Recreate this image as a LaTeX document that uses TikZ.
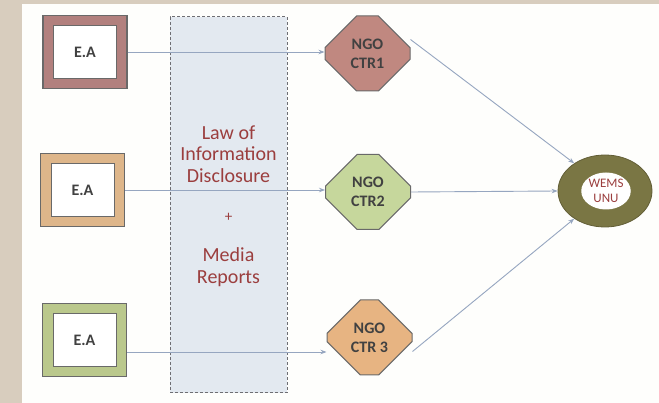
\documentclass[tikz,border=0pt]{standalone}
\usepackage{fontspec}
\setmainfont{Carlito}
\usetikzlibrary{shapes.misc,shapes.geometric,arrows.meta}
\definecolor{bgbeige}{RGB}{216,205,190}
\definecolor{panel}{RGB}{254,254,252}
\definecolor{edgegray}{RGB}{105,105,105}
\definecolor{rosefill}{RGB}{178,128,126}
\definecolor{tanfill}{RGB}{222,182,138}
\definecolor{greenfill}{RGB}{186,200,140}
\definecolor{oct1fill}{RGB}{192,136,128}
\definecolor{oct2fill}{RGB}{198,215,156}
\definecolor{oct3fill}{RGB}{231,180,130}
\definecolor{boxfill}{RGB}{227,233,240}
\definecolor{dashgray}{RGB}{110,110,115}
\definecolor{conncol}{RGB}{150,166,192}
\definecolor{redtext}{RGB}{155,62,62}
\definecolor{olive}{RGB}{122,118,68}
\definecolor{darktext}{RGB}{65,65,65}
\tikzset{
  eaouter/.style={draw=edgegray, line width=1.2pt, minimum width=84pt, minimum height=73pt, inner sep=0pt},
  eainner/.style={draw=edgegray, line width=1pt, fill=white, minimum width=63pt, minimum height=53pt, inner sep=0pt,
    font=\fontsize{16}{18}\selectfont\bfseries, text=darktext},
  ngo/.style={chamfered rectangle, chamfered rectangle xsep=20pt, chamfered rectangle ysep=22pt,
    draw=edgegray, line width=1pt, minimum width=85pt, minimum height=75pt, inner sep=0pt,
    align=center, font=\fontsize{16}{19}\selectfont\bfseries, text=darktext},
  conn/.style={draw=conncol, line width=0.9pt, -{Stealth[length=6pt,width=4.5pt]}},
}
\begin{document}
\begin{tikzpicture}[x=1pt,y=-1pt]
\fill[bgbeige] (0,0) rectangle (659,403);
\fill[panel] (22,4) rectangle (659,403);
\useasboundingbox (0,0) rectangle (659,403);
% central dashed box
\node[draw=dashgray, densely dashed, line width=1pt, fill=boxfill, minimum width=117pt, minimum height=376pt, inner sep=0pt] (law) at (228.5,205) {};
\node[text=redtext, align=center, font=\fontsize{20}{21.5}\selectfont] (lawtxt) at (228.5,154) {Law of\\Information\\Disclosure};
\node[text=redtext, font=\fontsize{15}{16}\selectfont] (plus) at (228.5,217) {+};
\node[text=redtext, align=center, font=\fontsize{20}{21.5}\selectfont] (media) at (228.5,267) {Media\\Reports};
% E.A boxes
\node[eaouter, fill=rosefill] (ea1o) at (85,52) {};
\node[eainner] (ea1) at (85,52) {E.A};
\node[eaouter, fill=tanfill] (ea2o) at (82.5,190) {};
\node[eainner] (ea2) at (82.5,190) {E.A};
\node[eaouter, fill=greenfill] (ea3o) at (84.5,340) {};
\node[eainner] (ea3) at (84.5,340) {E.A};
% NGO octagons
\node[ngo, fill=oct1fill] (oct1) at (367.5,53.5) {NGO\\CTR1};
\node[ngo, fill=oct2fill] (oct2) at (368,192) {NGO\\CTR2};
\node[ngo, fill=oct3fill] (oct3) at (369.5,337.5) {NGO\\CTR 3};
% WEMS UNU ring
\node[ellipse, draw=olive!80!black, line width=0.8pt, fill=olive, minimum width=94pt, minimum height=72pt, inner sep=0pt] (ring) at (605,191) {};
\node[ellipse, fill=white, minimum width=48pt, minimum height=37pt, inner sep=0pt, align=center,
  text=redtext, font=\fontsize{13}{15}\selectfont] (wems) at (606,191) {WEMS\\UNU};
% connectors
\draw[conn] (ea1o.east) -- (ea1o.east -| oct1.west);
\draw[conn] (ea2o.east) -- (ea2o.east -| oct2.west);
\coordinate (s3) at ([yshift=-12pt]ea3o.east);
\draw[conn] (s3) -- (s3 -| oct3.west);
\draw[conn] ([yshift=14pt]oct1.east) -- (ring.138);
\draw[conn] (oct2.east) -- (ring.west);
\draw[conn] ([yshift=-14pt]oct3.east) -- (ring.222);
\end{tikzpicture}
\end{document}
